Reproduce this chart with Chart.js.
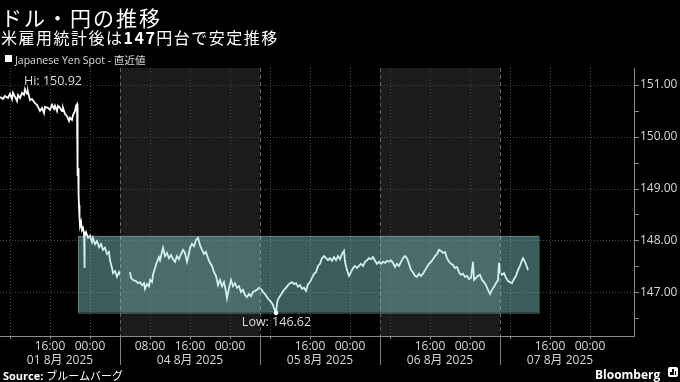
<!DOCTYPE html>
<html><head><meta charset="utf-8">
<script src="https://cdn.jsdelivr.net/npm/chart.js@4.4.1/dist/chart.umd.min.js"></script>
<style>
html,body{margin:0;padding:0;background:#000;}
#wrap{position:relative;width:680px;height:382px;overflow:hidden;background:#000;}
canvas{position:absolute;left:0;top:0;}
.t{position:absolute;white-space:nowrap;line-height:1;}
#title{left:1px;top:2px;font:400 21px "Noto Sans CJK JP";letter-spacing:2px;color:#fff;}
#sub{left:1px;top:25px;font:400 16px "Noto Sans CJK JP";letter-spacing:1.5px;color:#fff;}
#sub b{font-weight:700;}
#legend{left:15px;top:52px;font:400 10.5px "Open Sans","Noto Sans CJK JP";color:#ddd;}
#sq{position:absolute;left:5px;top:55px;width:7px;height:7px;background:#fff;}
#src{left:3px;top:367px;font:400 11px "Open Sans","Noto Sans CJK JP";color:#fff;}
#src b{font-weight:700;}
#bb{left:595px;top:366px;font:700 12px "Open Sans";color:#fff;}
#icon{position:absolute;left:668px;top:367px;width:10px;height:10px;background:#fff;border-radius:2px;}
#icon i{position:absolute;bottom:2px;width:1.5px;background:#000;}
</style></head>
<body>
<div id="wrap">
<canvas id="c" width="680" height="382"></canvas>
<div class="t" id="title">ドル・円の推移</div>
<div class="t" id="sub">米雇用統計後は<b>147</b>円台で安定推移</div>
<div id="sq"></div>
<div class="t" id="legend">Japanese Yen Spot - 直近値</div>
<div class="t" id="src"><b>Source:</b> ブルームバーグ</div>
<div class="t" id="bb">Bloomberg</div>
<div id="icon"><i style="left:2px;height:3px"></i><i style="left:4.3px;height:6px"></i><i style="left:6.6px;height:4px"></i></div>
</div>
<script>
// x values: trading hours from 06:00 JST 01 Aug 2025 (weekend removed)
const hours = [
 0,0.6,1,1.6,2,2.4,2.6,3,3.4,3.6,
 4,4.4,4.8,5,5.4,5.6,6,6.4,7,7.4,
 8,8.4,8.8,9,9.6,10,10.4,10.8,11,11.4,
 11.6,12,12.4,12.6,13,13.4,13.8,14,14.4,14.6,
 15,15.2,15.4,15.48,15.56,15.64,15.72,15.8,15.9,16,
 16.2,16.4,16.6,16.8,16.88,16.96,17.2,17.6,18,18.4,
 18.6,19,19.4,19.8,20.2,20.6,21,21.4,21.8,22,
 22.4,22.6,23,23.4,23.8,24,25,
 26,26.2,26.6,27.2,27.6,28,28.4,28.8,29,29.4,
 29.8,30,30.4,30.6,31,31.4,31.8,32,32.4,32.6,
 33,33.4,33.8,34.2,34.6,35,35.4,35.8,36.2,36.6,
 37,37.4,37.6,38,38.4,38.8,39.2,39.6,40,40.4,
 40.8,41.2,41.6,42,42.4,42.8,43.2,43.6,44,44.4,
 44.8,45.2,45.4,45.8,46.2,46.6,47,47.4,47.8,48.2,
 48.6,49,49.4,49.8,50.2,50.6,51,51.4,51.8,52.2,
 52.6,53,53.4,53.8,54.2,54.6,54.8,55.2,55.4,55.6,
 56,56.4,56.8,57.2,57.6,58,58.4,58.8,59.2,59.6,
 60,60.4,60.8,61.2,61.6,62,62.4,62.8,63.2,63.6,
 64,64.4,64.8,65.2,65.6,66,66.4,66.8,67.2,67.6,
 68,68.4,68.8,69,69.4,69.8,70.2,70.6,71,71.4,
 71.8,72.2,72.6,73,73.4,73.8,74.2,74.6,75,75.4,
 75.8,76.2,76.6,77,77.4,77.8,78.2,78.6,79,79.4,
 79.8,80.2,80.6,81,81.4,81.8,82.2,82.6,83,83.4,
 83.8,84.2,84.6,85,85.4,85.8,86.2,86.6,87,87.4,
 87.8,88.2,88.6,89,89.4,89.8,90.2,90.6,91,91.4,
 91.8,92.2,92.6,93,93.4,93.8,94.2,94.6,94.8,95.2,
 95.6,96,96.4,96.8,97.2,97.6,98,98.4,98.8,99.2,
 99.6,99.8,100,100.4,100.8,101.2,101.6,102,102.4,102.8,
 103.2,103.6,104,104.4,104.6,105,105.4,105.6
];
const usdjpy = [
 150.77,150.73,150.79,150.75,150.83,150.73,150.85,150.77,150.69,150.81,
 150.75,150.85,150.81,150.92,150.83,150.87,150.71,150.73,150.65,150.62,
 150.50,150.56,150.46,150.58,150.56,150.52,150.62,150.54,150.60,150.50,
 150.60,150.56,150.50,150.56,150.44,150.40,150.31,150.37,150.33,150.42,
 150.50,150.60,150.63,149.37,149.25,149.40,148.88,148.69,148.44,148.29,
 148.37,148.21,148.25,148.15,147.48,148.10,148.17,148.06,148.10,147.98,
 148.06,147.94,148.00,147.88,147.94,147.83,147.87,147.75,147.79,147.63,
 147.48,147.38,147.42,147.31,147.40,147.35,null,
 147.40,147.29,147.25,147.23,147.19,147.21,147.15,147.19,147.08,147.17,
 147.13,147.25,147.21,147.35,147.48,147.60,147.69,147.63,147.79,147.87,
 147.71,147.77,147.67,147.73,147.65,147.60,147.71,147.65,147.75,147.83,
 147.77,147.60,147.67,147.87,147.94,147.90,148.02,148.06,147.92,147.83,
 147.75,147.79,147.67,147.58,147.52,147.40,147.33,147.15,147.25,147.13,
 147.21,147.02,146.90,147.10,147.25,147.13,147.19,147.10,147.13,147.02,
 147.06,146.96,146.92,146.98,146.94,147.02,147.04,147.06,147.10,147.08,
 147.02,146.98,146.92,146.87,146.83,146.77,146.71,146.62,146.79,146.88,
 146.94,147.00,147.06,147.10,147.15,147.19,147.21,147.17,147.19,147.12,
 147.15,147.08,147.10,147.04,147.17,147.21,147.29,147.37,147.40,147.52,
 147.56,147.67,147.71,147.67,147.63,147.67,147.62,147.69,147.63,147.71,
 147.65,147.75,147.81,147.60,147.44,147.33,147.40,147.48,147.52,147.48,
 147.52,147.56,147.52,147.60,147.63,147.67,147.65,147.69,147.62,147.56,
 147.60,147.56,147.60,147.58,147.62,147.60,147.63,147.58,147.50,147.56,
 147.52,147.60,147.67,147.71,147.67,147.56,147.44,147.40,147.33,147.31,
 147.37,147.33,147.37,147.44,147.50,147.56,147.60,147.65,147.71,147.75,
 147.83,147.81,147.77,147.79,147.67,147.60,147.56,147.54,147.48,147.50,
 147.40,147.35,147.37,147.31,147.33,147.27,147.29,147.60,147.25,147.29,
 147.33,147.35,147.25,147.21,147.15,147.06,146.98,147.06,147.12,147.19,
 147.25,147.58,147.40,147.35,147.38,147.29,147.23,147.21,147.19,147.27,
 147.33,147.44,147.52,147.63,147.67,147.60,147.50,147.44
];
const xTickHours  = [2,10,18,30,38,46,54,62,70,78,86,94,102,110,118];
const xTickLabels = ['','16:00','00:00','08:00','16:00','00:00','','16:00','00:00','','16:00','00:00','','16:00','00:00'];
const dateCenters = [12,38,64,88,112];
const dateLabels  = ['01 8月 2025','04 8月 2025','05 8月 2025','06 8月 2025','07 8月 2025'];
const yTicks = [146.5,147,147.5,148,148.5,149,149.5,150,150.5,151];
const shadedDays = [[24,52],[76,100]];
const rangeHours = [15.6,107.8];
const rangeValues = [146.62,148.10];
const hiPoint = [5,150.92];
const lowPoint = [55.2,146.62];

const FONT = "'Open Sans','Noto Sans CJK JP',sans-serif";
const decor = {
  id:'decor',
  beforeDraw(chart){
    const {ctx, chartArea:a, scales:{x}} = chart;
    ctx.save();
    ctx.fillStyle='#000'; ctx.fillRect(0,0,chart.width,chart.height);
    ctx.fillStyle='#1b1b1b';
    shadedDays.forEach(([s,e])=>{
      const x0=x.getPixelForValue(s), x1=x.getPixelForValue(e);
      ctx.fillRect(x0,a.top,x1-x0,a.bottom-a.top);
    });
    ctx.restore();
  },
  afterDatasetsDraw(chart){
    const {ctx, chartArea:a, scales:{x,y}} = chart;
    ctx.save();
    shadedDays.flat().forEach(h=>{
      const px=Math.round(x.getPixelForValue(h))+0.5;
      ctx.lineWidth=1;
      ctx.strokeStyle='#606060'; ctx.setLineDash([4,3]);
      ctx.beginPath(); ctx.moveTo(px,a.top); ctx.lineTo(px,a.bottom); ctx.stroke();
      ctx.setLineDash([]); ctx.strokeStyle='#808080';
      ctx.beginPath(); ctx.moveTo(px,a.bottom); ctx.lineTo(px,a.bottom+29); ctx.stroke();
    });
    const bx0=x.getPixelForValue(rangeHours[0]), bx1=x.getPixelForValue(rangeHours[1]);
    const by0=y.getPixelForValue(rangeValues[1]), by1=y.getPixelForValue(rangeValues[0]);
    ctx.fillStyle='rgba(140,220,215,0.42)';
    ctx.fillRect(bx0,by0,bx1-bx0,by1-by0);
    ctx.setLineDash([1,1]); ctx.strokeStyle='rgba(190,240,235,0.45)'; ctx.lineWidth=1;
    ctx.strokeRect(Math.round(bx0)+0.5,Math.round(by0)+0.5,Math.round(bx1-bx0),Math.round(by1-by0));
    ctx.setLineDash([]);
    const lx=x.getPixelForValue(lowPoint[0]), ly=y.getPixelForValue(lowPoint[1]);
    ctx.fillStyle='#fff'; ctx.beginPath(); ctx.arc(lx,ly,2.2,0,Math.PI*2); ctx.fill();
    ctx.font="12.5px "+FONT; ctx.fillStyle='#dcdcdc'; ctx.textBaseline='middle';
    ctx.textAlign='center'; ctx.fillText('Low: '+lowPoint[1].toFixed(2), lx+0.5, ly+10);
    const hx=x.getPixelForValue(hiPoint[0]), hy=y.getPixelForValue(hiPoint[1]);
    ctx.textAlign='left'; ctx.fillText('Hi: '+hiPoint[1].toFixed(2), hx-1, hy-8);
    ctx.restore();
  }
};

const pts = hours.map((h,i)=>({x:h,y:usdjpy[i]}));
new Chart(document.getElementById('c'), {
  type:'line',
  data:{datasets:[{data:pts,borderColor:'#fff',borderWidth:1.8,pointRadius:0,tension:0,spanGaps:false,fill:false}]},
  options:{
    responsive:false, animation:false, devicePixelRatio:1,
    layout:{padding:{top:68,left:0,right:0,bottom:0}},
    plugins:{legend:{display:false},tooltip:{enabled:false}},
    scales:{
      x:{type:'linear',position:'bottom',min:0,max:126.8,weight:0,
        afterBuildTicks:s=>{s.ticks=xTickHours.map(v=>({value:v}));},
        afterFit:s=>{s.height=17;},
        grid:{color:'#484848',lineWidth:1,drawTicks:true,tickLength:3,tickColor:'#8c8c8c'},
        border:{display:true,color:'#8c8c8c',width:1,dash:[1,2]},
        ticks:{autoSkip:false,maxRotation:0,minRotation:0,padding:0,color:'#d8d8d8',font:{family:FONT,size:12},
          callback:(v,i)=>xTickLabels[i]}
      },
      x2:{type:'linear',position:'bottom',min:0,max:126.8,weight:1,
        afterBuildTicks:s=>{s.ticks=dateCenters.map(v=>({value:v}));},
        afterFit:s=>{s.height=29;},
        grid:{display:false,drawTicks:false},
        border:{display:false},
        ticks:{autoSkip:false,maxRotation:0,minRotation:0,padding:0,color:'#d8d8d8',font:{family:FONT,size:12},
          callback:(v,i)=>dateLabels[i]}
      },
      y:{type:'linear',position:'right',min:146.173,max:151.327,
        afterBuildTicks:s=>{s.ticks=yTicks.map(v=>({value:v}));},
        afterFit:s=>{s.width=46;},
        grid:{color:c=>(c.tick&&Number.isInteger(c.tick.value))?'#484848':'rgba(0,0,0,0)',tickLength:5,tickColor:'#8c8c8c'},
        border:{display:true,color:'#8c8c8c',width:1,dash:[1,2]},
        ticks:{padding:1,color:'#d8d8d8',font:{family:FONT,size:12},
          callback:v=>Number.isInteger(v)?v.toFixed(2):''}
      }
    }
  },
  plugins:[decor]
});
</script>
</body></html>
